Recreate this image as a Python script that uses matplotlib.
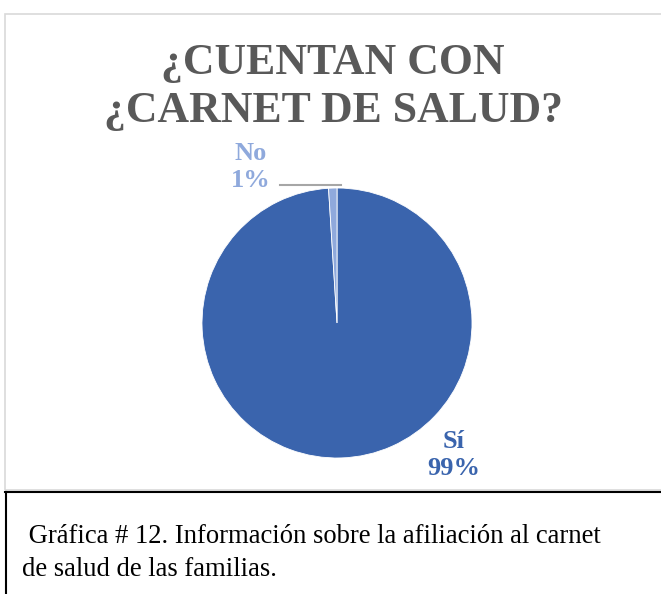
import matplotlib.pyplot as plt
from matplotlib.patches import Rectangle
from matplotlib.lines import Line2D

# data
labels = ['Sí', 'No']
values = [99, 1]
colors = ['#3A64AD', '#8FA9DC']
title = '¿CUENTAN CON\n¿CARNET DE SALUD?'
caption = ' Gráfica # 12. Información sobre la afiliación al carnet\nde salud de las familias.'

plt.rcParams['font.family'] = ['Liberation Serif', 'DejaVu Serif']

W, H = 661, 594
fig = plt.figure(figsize=(W / 100, H / 100), dpi=100)

# chart frame (light gray) and caption box lines
fig.patches.append(Rectangle((5 / W, 1 - 490 / H), 1, (490 - 14) / H, transform=fig.transFigure,
                             fill=False, edgecolor='#D9D9D9', linewidth=1.2))
fig.add_artist(Line2D([5 / W, 1], [1 - 492 / H] * 2, transform=fig.transFigure, color='black', linewidth=1.5))
fig.add_artist(Line2D([6 / W] * 2, [0, 1 - 492 / H], transform=fig.transFigure, color='black', linewidth=1.5))

# pie: center ~ (337, 323), radius ~ 135 px
r = 135
ax = fig.add_axes([(337 - r) / W, 1 - (323 + r) / H, 2 * r / W, 2 * r / H])
wedges, _ = ax.pie(values, colors=colors, startangle=90, counterclock=False,
                   wedgeprops=dict(edgecolor='white', linewidth=0.6))
ax.set_aspect('equal')
ax.set_xlim(-1, 1)
ax.set_ylim(-1, 1)

fig.text(333 / W, 1 - 87 / H, title, ha='center', va='center', fontsize=31.5, fontweight='bold',
         color='#595959', linespacing=1.25)

# data labels
fig.text(251 / W, 1 - 167 / H, 'No\n1%', ha='center', va='center', fontsize=19, fontweight='bold',
         color=colors[1], linespacing=1.2)
fig.add_artist(Line2D([280 / W, 341 / W], [1 - 185 / H] * 2, transform=fig.transFigure,
                      color='#A6A6A6', linewidth=1.5))
fig.text(454 / W, 1 - 455 / H, 'Sí\n99%', ha='center', va='center', fontsize=19, fontweight='bold',
         color=colors[0], linespacing=1.2)

fig.text(22 / W, 1 - 553 / H, caption, ha='left', va='center', fontsize=19.2, color='black',
         linespacing=1.45)

fig.savefig('out.png', dpi=100)
